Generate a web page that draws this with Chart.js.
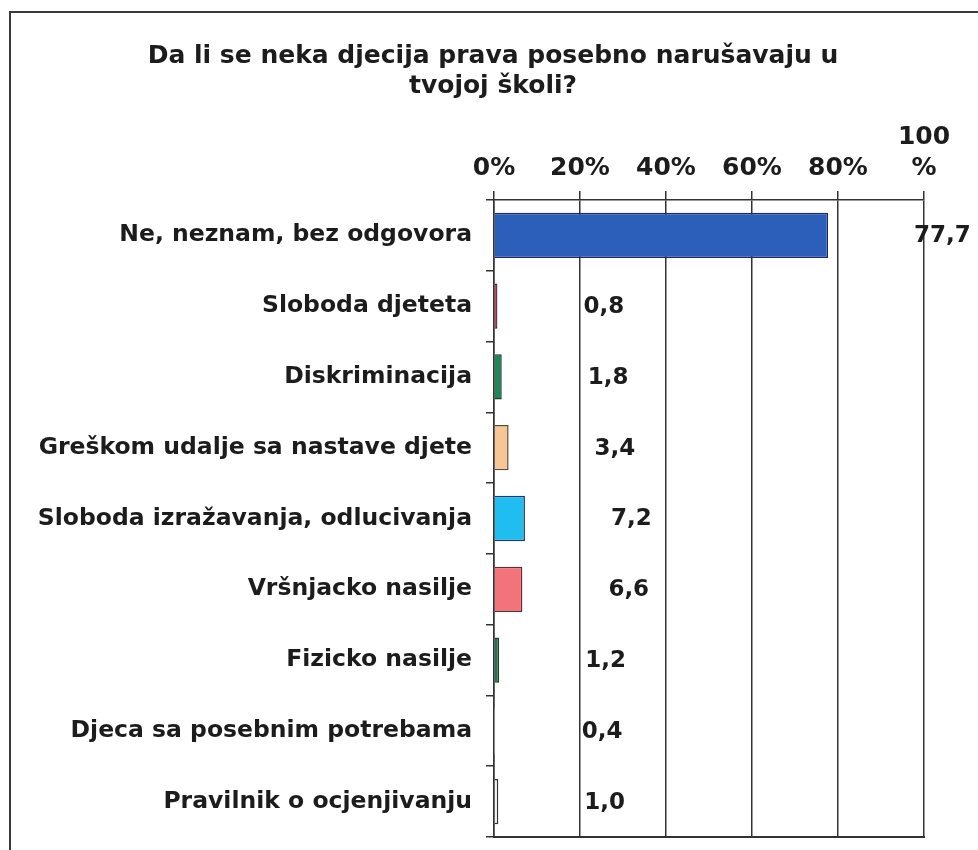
<!DOCTYPE html>
<html>
<head>
<meta charset="utf-8">
<script src="https://cdn.jsdelivr.net/npm/chart.js@4"></script>
<style>
  html, body { margin: 0; padding: 0; background: #fff; }
  #wrap { position: relative; width: 978px; height: 850px; }
  #chart { position: absolute; left: 0; top: 0; }
  #frame {
    position: absolute; left: 9px; top: 11px; right: 0; bottom: 0;
    border-left: 2px solid #3a3a3a; border-top: 2px solid #3a3a3a;
    pointer-events: none;
  }
</style>
</head>
<body>
<div id="wrap">
  <canvas id="chart" width="978" height="850"></canvas>
  <div id="frame"></div>
</div>
<script>
// ── Data ──────────────────────────────────────────────────────────────────────
const titleLines = ['Da li se neka djecija prava posebno narušavaju u', 'tvojoj školi?'];

const categories = [
  'Ne, neznam, bez odgovora',
  'Sloboda djeteta',
  'Diskriminacija',
  'Greškom udalje sa nastave djete',
  'Sloboda izražavanja, odlucivanja',
  'Vršnjacko nasilje',
  'Fizicko nasilje',
  'Djeca sa posebnim potrebama',
  'Pravilnik o ocjenjivanju',
];
const values      = [77.7, 0.8, 1.8, 3.4, 7.2, 6.6, 1.2, 0.4, 1.0];
const barColors   = ['#2c5fba', '#b94b63', '#1f8656', '#f8c594', '#1fbdf0', '#f2737a', '#27704f', '#ffffff', '#f2f2f2'];
const borderCols  = ['#1d2c66', '#5a2030', '#1b3d2c', '#5a4a3a', '#1d3a6a', '#6a2a2e', '#1b3d2c', '#ffffff', '#333333'];
const borderWids  = [1.5, 1.5, 1.5, 1.5, 1.5, 1.5, 1.5, 0, 1.5];
const xTicks      = [0, 20, 40, 60, 80, 100];

const ink  = '#1c1c1c';
const grid = '#333333';
const font = 'DejaVu Sans, Verdana, sans-serif';

// title drawn by hand so it centres on the whole canvas, not on the padded box
const canvasTitle = {
  id: 'canvasTitle',
  afterDraw(chart) {
    const { ctx } = chart;
    ctx.save();
    ctx.font = `bold 25px ${font}`;
    ctx.fillStyle = ink;
    ctx.textAlign = 'center';
    ctx.textBaseline = 'middle';
    titleLines.forEach((line, i) => ctx.fillText(line, chart.width / 2 + 4, 56 + i * 30));
    ctx.restore();
  },
};

// value labels sit a fixed 20 % to the right of each bar end, like the original
const valueLabels = {
  id: 'valueLabels',
  afterDatasetsDraw(chart) {
    const { ctx, scales: { x } } = chart;
    const meta = chart.getDatasetMeta(0);
    ctx.save();
    ctx.font = `bold 23px ${font}`;
    ctx.fillStyle = ink;
    ctx.textAlign = 'left';
    ctx.textBaseline = 'middle';
    meta.data.forEach((bar, i) => {
      const txt = values[i].toFixed(1).replace('.', ',');
      ctx.fillText(txt, x.getPixelForValue(values[i] + 20), bar.y + 1);
    });
    ctx.restore();
  },
};

new Chart(document.getElementById('chart'), {
  type: 'bar',
  data: {
    labels: categories,
    datasets: [{
      data: values,
      backgroundColor: barColors,
      borderColor: borderCols,
      borderWidth: borderWids,
      barPercentage: 0.64,
      categoryPercentage: 1,
    }],
  },
  options: {
    indexAxis: 'y',
    responsive: false,
    animation: false,
    layout: { padding: { left: 0, right: 54, top: 100, bottom: 13 } },
    plugins: {
      legend: { display: false },
      tooltip: { enabled: false },
      title: { display: false },
    },
    scales: {
      x: {
        position: 'top',
        min: 0,
        max: 100,
        afterBuildTicks: scale => { scale.ticks = xTicks.map(v => ({ value: v })); },
        afterFit: scale => { scale.height = 100; },
        border: { display: true, color: grid, width: 1.5 },
        grid: { color: grid, lineWidth: 1.5, tickLength: 9, tickColor: grid },
        ticks: {
          color: ink,
          padding: 7,
          maxRotation: 0,
          autoSkip: false,
          font: { family: font, size: 25, weight: 'bold', lineHeight: 1.24 },
          callback: v => (v === 100 ? ['100', '%'] : v + '%'),
        },
      },
      x2: {
        position: 'bottom',
        min: 0,
        max: 100,
        afterFit: scale => { scale.height = 0; },
        border: { display: true, color: grid, width: 2 },
        grid: { display: false },
        ticks: { display: false },
      },
      y: {
        afterFit: scale => {
          scale.width = 494;
          scale.paddingTop = 0;
          scale.paddingBottom = 0;
        },
        border: { display: true, color: grid, width: 1.5 },
        grid: {
          offset: true,
          drawOnChartArea: false,
          lineWidth: 1.5,
          tickLength: 8,
          tickColor: grid,
        },
        ticks: {
          color: ink,
          padding: 14,
          autoSkip: false,
          font: { family: font, size: 23.5, weight: 'bold' },
        },
      },
    },
  },
  plugins: [valueLabels, canvasTitle],
});
</script>
</body>
</html>
